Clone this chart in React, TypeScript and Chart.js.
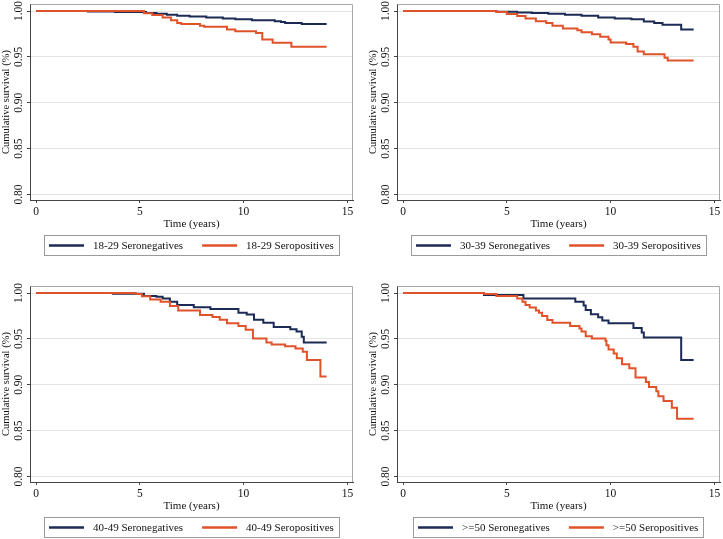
import React, { useEffect, useRef } from "react";
import { Chart, registerables } from "chart.js";

Chart.register(...registerables);

// ---------- data ----------
const X_TICKS = [0, 5, 10, 15];
const Y_TICKS = [0.8, 0.85, 0.9, 0.95, 1.0];

const GROUPS = ["18-29", "30-39", "40-49", ">=50"];
const SERIES_NAMES = ["Seronegatives", "Seropositives"];

const NEG1_T = [0, 2.5, 3.8, 5.3, 5.8, 6.3, 6.8, 7.4, 8.2, 9.0, 9.6, 10.4, 11.5, 11.8, 12.0, 12.8, 14.0];
const NEG1_S = [1, 0.9995, 0.999, 0.998, 0.997, 0.996, 0.995, 0.994, 0.993, 0.992, 0.991, 0.99, 0.989, 0.988, 0.987, 0.986, 0.986];
const POS1_T = [0, 5.2, 5.6, 6.1, 6.5, 6.8, 7.0, 7.9, 8.1, 9.2, 9.6, 10.6, 10.9, 11.4, 12.3, 14.0];
const POS1_S = [1, 0.9975, 0.9957, 0.993, 0.99, 0.987, 0.986, 0.984, 0.983, 0.98, 0.978, 0.976, 0.969, 0.9655, 0.961, 0.961];

const NEG2_T = [0, 4.5, 5.5, 6.2, 7.0, 7.8, 8.6, 9.4, 10.2, 11.0, 11.6, 12.1, 12.5, 13.4, 14.0];
const NEG2_S = [1, 0.9993, 0.9985, 0.998, 0.997, 0.996, 0.995, 0.993, 0.992, 0.991, 0.9885, 0.987, 0.985, 0.98, 0.98];
const POS2_T = [0, 4.5, 5.0, 5.5, 5.9, 6.4, 6.9, 7.2, 7.7, 8.4, 8.6, 9.1, 9.5, 9.9, 10.0, 10.75, 11.1, 11.3, 11.6, 12.6, 12.75, 14.0];
const POS2_S = [1, 0.999, 0.9967, 0.9946, 0.992, 0.989, 0.987, 0.984, 0.981, 0.979, 0.977, 0.9747, 0.972, 0.969, 0.9656, 0.964, 0.961, 0.956, 0.953, 0.949, 0.946, 0.946];

const NEG3_T = [0, 3.7, 5.2, 5.8, 6.1, 6.45, 6.8, 7.6, 8.4, 9.75, 10.15, 10.5, 10.95, 11.45, 12.25, 12.55, 12.8, 12.9, 14.0];
const NEG3_S = [1, 0.9992, 0.9967, 0.996, 0.994, 0.9905, 0.987, 0.9844, 0.9825, 0.9785, 0.9765, 0.971, 0.9676, 0.963, 0.9605, 0.958, 0.9523, 0.9462, 0.9462];
const POS3_T = [0, 4.8, 5.1, 5.5, 6.0, 6.45, 6.85, 7.9, 8.5, 8.85, 9.2, 9.75, 10.1, 10.45, 11.1, 11.35, 12.0, 12.5, 12.85, 13.05, 13.7, 14.0];
const POS3_S = [1, 0.999, 0.9964, 0.993, 0.9905, 0.9858, 0.981, 0.976, 0.974, 0.971, 0.967, 0.964, 0.96, 0.9505, 0.946, 0.944, 0.942, 0.9396, 0.936, 0.927, 0.909, 0.909];

const NEG4_T = [0, 3.9, 5.8, 8.3, 8.7, 8.8, 9.05, 9.4, 9.6, 9.9, 11.1, 11.5, 11.6, 13.4, 14.0];
const NEG4_S = [1, 0.9978, 0.994, 0.9905, 0.9865, 0.9814, 0.977, 0.9735, 0.97, 0.967, 0.962, 0.957, 0.9516, 0.927, 0.927];
const POS4_T = [0, 3.9, 4.5, 5.5, 5.75, 5.9, 6.1, 6.4, 6.55, 6.7, 6.95, 7.2, 8.05, 8.5, 8.6, 8.8, 9.1, 9.75, 9.8, 9.9, 10.15, 10.3, 10.55, 10.9, 11.2, 11.7, 11.85, 12.2, 12.3, 12.55, 12.95, 13.2, 14.0];
const POS4_S = [1, 0.999, 0.9967, 0.994, 0.9905, 0.987, 0.9843, 0.981, 0.9785, 0.975, 0.9705, 0.9676, 0.964, 0.9614, 0.958, 0.953, 0.9505, 0.948, 0.943, 0.9385, 0.934, 0.929, 0.9225, 0.918, 0.908, 0.903, 0.8977, 0.893, 0.8875, 0.8824, 0.875, 0.863, 0.863];

// ---------- style / layout ----------
const NAVY = "#1c2a56";
const ORANGE = "#e0532a";
const FONT_FAMILY = '"Liberation Serif", "Times New Roman", Times, serif';
const X_MIN = -0.29;
const X_MAX = 15.27;
const Y_MIN = 0.794;
const Y_MAX = 1.0077;
const Y_AXIS_W = 30;
const X_AXIS_H = 30.6;

type Box = { x: number; y: number; w: number; h: number };
type Area = { l: number; t: number; r: number; b: number };
type PanelDef = {
  group: string;
  negT: number[];
  negS: number[];
  posT: number[];
  posS: number[];
  canvas: Box;
  area: Area;
};

const PANELS: PanelDef[] = [
  { group: GROUPS[0], negT: NEG1_T, negS: NEG1_S, posT: POS1_T, posS: POS1_S, canvas: { x: 0, y: 0, w: 361, h: 270 }, area: { l: 30, t: 4, r: 353, b: 200 } },
  { group: GROUPS[1], negT: NEG2_T, negS: NEG2_S, posT: POS2_T, posS: POS2_S, canvas: { x: 361, y: 0, w: 362, h: 270 }, area: { l: 397, t: 4, r: 720, b: 200 } },
  { group: GROUPS[2], negT: NEG3_T, negS: NEG3_S, posT: POS3_T, posS: POS3_S, canvas: { x: 0, y: 270, w: 361, h: 269 }, area: { l: 30, t: 286, r: 353, b: 482 } },
  { group: GROUPS[3], negT: NEG4_T, negS: NEG4_S, posT: POS4_T, posS: POS4_S, canvas: { x: 361, y: 270, w: 362, h: 269 }, area: { l: 397, t: 286, r: 720, b: 482 } },
];

const toPoints = (t: number[], s: number[]) => t.map((x, i) => ({ x, y: s[i] }));

const frameLegendPlugin = {
  id: "frameLegend",
  afterDraw(chart: any) {
    const { ctx, chartArea: ca } = chart;
    ctx.save();
    // top and right frame lines
    ctx.strokeStyle = "#a8a8a8";
    ctx.lineWidth = 1;
    ctx.beginPath();
    ctx.moveTo(Math.round(ca.left) + 0.5, Math.round(ca.top) + 0.5);
    ctx.lineTo(Math.round(ca.right) - 0.5, Math.round(ca.top) + 0.5);
    ctx.lineTo(Math.round(ca.right) - 0.5, Math.round(ca.bottom));
    ctx.stroke();

    // legend box
    const items = chart.data.datasets.map((d: any) => ({ label: d.label, color: d.borderColor }));
    ctx.font = `11px ${FONT_FAMILY}`;
    const lineLen = 35;
    const gap = 9;
    const itemGap = 19;
    const pad = 5;
    const widths = items.map((it: any) => lineLen + gap + ctx.measureText(it.label).width);
    const total = widths.reduce((a: number, b: number) => a + b, 0) + itemGap * (items.length - 1) + pad * 2;
    const boxLeft = Math.round((ca.left + ca.right) / 2 - total / 2);
    const boxTop = Math.round(ca.bottom + 35);
    const boxH = 20;
    ctx.strokeStyle = "#9a9a9a";
    ctx.strokeRect(boxLeft + 0.5, boxTop + 0.5, Math.round(total), boxH);
    let x = boxLeft + pad;
    const cy = boxTop + boxH / 2 + 0.5;
    items.forEach((it: any, i: number) => {
      ctx.strokeStyle = it.color;
      ctx.lineWidth = 2.5;
      ctx.beginPath();
      ctx.moveTo(x, cy);
      ctx.lineTo(x + lineLen, cy);
      ctx.stroke();
      ctx.fillStyle = "#111";
      ctx.textAlign = "left";
      ctx.textBaseline = "middle";
      ctx.fillText(it.label, x + lineLen + gap, cy + 0.5);
      x += widths[i] + itemGap;
    });
    ctx.restore();
  },
};

function Panel({ def }: { def: PanelDef }) {
  const ref = useRef<HTMLCanvasElement | null>(null);
  useEffect(() => {
    if (!ref.current) return;
    const { canvas: c, area: a } = def;
    const padding = {
      left: a.l - c.x - Y_AXIS_W,
      top: a.t - c.y,
      right: c.x + c.w - a.r,
      bottom: c.y + c.h - a.b - X_AXIS_H,
    };
    const tickFont = { family: FONT_FAMILY, size: 11.5 };
    const xTitleFont = { family: FONT_FAMILY, size: 11 };
    const yTitleFont = { family: FONT_FAMILY, size: 10.5 };
    const chart = new Chart(ref.current, {
      type: "line",
      data: {
        datasets: [
          {
            label: `${def.group} ${SERIES_NAMES[0]}`,
            data: toPoints(def.negT, def.negS),
            borderColor: NAVY,
            backgroundColor: NAVY,
            borderWidth: 2,
            pointRadius: 0,
            stepped: "before",
            fill: false,
            order: 1,
          },
          {
            label: `${def.group} ${SERIES_NAMES[1]}`,
            data: toPoints(def.posT, def.posS),
            borderColor: ORANGE,
            backgroundColor: ORANGE,
            borderWidth: 2,
            pointRadius: 0,
            stepped: "before",
            fill: false,
            order: 0,
          },
        ],
      },
      options: {
        animation: false,
        responsive: false,
        devicePixelRatio: 1,
        layout: { padding, autoPadding: false } as any,
        plugins: {
          legend: { display: false },
          tooltip: { enabled: false },
        },
        scales: {
          x: {
            type: "linear",
            min: X_MIN,
            max: X_MAX,
            afterBuildTicks: (s: any) => {
              s.ticks = X_TICKS.map((v) => ({ value: v }));
            },
            afterFit: (s: any) => {
              s.height = X_AXIS_H;
              s.paddingLeft = 0;
              s.paddingRight = 0;
              s.paddingTop = 0;
              s.paddingBottom = 0;
            },
            ticks: {
              font: tickFont,
              color: "#111",
              padding: 2.2,
              maxRotation: 0,
              autoSkip: false,
              callback: (v: any) => String(v),
            },
            grid: { drawOnChartArea: false, drawTicks: true, tickLength: 3, tickColor: "#444" },
            border: { display: true, color: "#444", width: 1 },
            title: { display: true, text: "Time (years)", font: xTitleFont, color: "#111", padding: 0 },
          },
          y: {
            type: "linear",
            min: Y_MIN,
            max: Y_MAX,
            afterBuildTicks: (s: any) => {
              s.ticks = Y_TICKS.map((v) => ({ value: v }));
            },
            afterFit: (s: any) => {
              s.width = Y_AXIS_W;
              s.paddingLeft = 0;
              s.paddingRight = 0;
              s.paddingTop = 0;
              s.paddingBottom = 0;
            },
            ticks: {
              font: tickFont,
              color: "#111",
              padding: -2.3,
              minRotation: 90,
              maxRotation: 90,
              crossAlign: "center",
              autoSkip: false,
              callback: (v: any) => Number(v).toFixed(2),
            },
            grid: { color: "#e3e3e3", lineWidth: 1, drawTicks: true, tickLength: 3, tickColor: "#444" },
            border: { display: true, color: "#444", width: 1 },
            title: { display: true, text: "Cumulative survival (%)", font: yTitleFont, color: "#111", padding: 0 },
          },
        },
      } as any,
      plugins: [frameLegendPlugin],
    });
    return () => chart.destroy();
  }, [def]);
  const { canvas: c } = def;
  return (
    <canvas
      ref={ref}
      width={c.w}
      height={c.h}
      style={{ position: "absolute", left: c.x, top: c.y, width: c.w, height: c.h }}
    />
  );
}

export default function App() {
  return (
    <div style={{ position: "absolute", left: 0, top: 0, width: 723, height: 539, background: "#fff", overflow: "hidden" }}>
      {PANELS.map((p) => (
        <Panel key={p.group} def={p} />
      ))}
    </div>
  );
}
